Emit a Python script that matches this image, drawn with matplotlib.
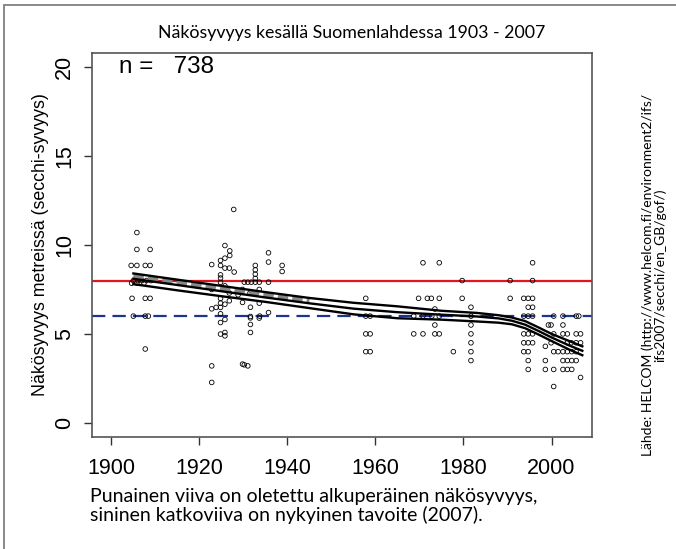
import matplotlib
matplotlib.use("Agg")
import matplotlib.pyplot as plt
from matplotlib.patches import Rectangle

obs_year = [
    1904.5, 1905.8, 1907.7, 1908.8, 1905.8, 1905.8, 1908.8,
    1905.0, 1906.0, 1907.0, 1908.0, 1909.0, 1904.6, 1905.8, 1907.4,
    1904.7, 1907.7, 1908.8, 1905.0, 1907.7, 1908.4, 1907.7,
    1922.8, 1922.8, 1922.8, 1927.8, 1925.8, 1926.9, 1926.9, 1925.8, 1924.8,
    1924.8, 1925.8, 1926.8, 1927.9, 1924.8, 1924.8, 1924.8, 1925.8, 1922.8,
    1926.8, 1935.7, 1935.7, 1938.8, 1938.8, 1932.7, 1932.7, 1932.7, 1932.7,
    1935.7, 1930.2, 1931.0, 1931.8, 1932.7, 1933.6, 1929.8, 1931.5, 1933.6,
    1928.8, 1924.8, 1924.8, 1925.8, 1926.8, 1922.8, 1923.8, 1924.8, 1924.8,
    1925.8, 1924.8, 1924.8, 1925.8, 1925.8, 1931.6, 1931.6, 1931.6, 1931.6,
    1931.6, 1929.8, 1933.6, 1933.6, 1935.7, 1933.7, 1929.8, 1930.2, 1931.0,
    1957.8, 1957.8, 1958.8, 1957.8, 1958.8, 1957.8, 1958.8,
    1970.8, 1974.5, 1979.7, 1969.8, 1971.8, 1972.7, 1974.5, 1979.7, 1973.5,
    1981.7, 1968.7, 1970.8, 1972.8, 1974.5, 1981.7, 1973.5, 1981.7, 1968.7,
    1970.8, 1973.5, 1974.5, 1981.7, 1981.7, 1977.7, 1981.7, 1981.7,
    1990.6, 1995.7, 1995.7, 1990.6, 1993.7, 1994.7, 1995.7, 1994.7, 1995.7,
    1993.7, 1994.7, 1995.7, 2000.5, 2002.6, 2005.6, 2006.2, 1999.3, 1999.9,
    2002.6, 1993.7, 1994.7, 1995.7, 2000.5, 2002.6, 2003.6, 2005.6, 2006.6,
    1993.7, 1994.7, 1995.7, 1998.6, 1999.9, 2003.6, 2004.5, 2005.6, 2006.6,
    1993.7, 1994.7, 2000.5, 2001.5, 2002.6, 2003.6, 2004.6, 2005.6, 1994.7,
    1998.6, 2002.6, 2003.6, 2004.6, 2005.6, 1994.7, 1998.6, 2000.5, 2002.6,
    2003.6, 2004.6, 2006.6, 2000.5,
]
obs_depth = [
    8.85, 8.85, 8.85, 8.85, 10.7, 9.75, 9.75,
    8.0, 8.0, 8.0, 8.0, 8.0, 7.85, 7.85, 7.85,
    7.0, 7.0, 7.0, 6.0, 6.0, 6.0, 4.15,
    8.9, 3.2, 2.27, 12.0, 9.97, 9.67, 9.41, 9.26, 9.13,
    8.85, 8.7, 8.7, 8.48, 8.32, 8.14, 7.9, 7.7, 7.5,
    7.3, 9.56, 9.04, 8.85, 8.51, 8.85, 8.6, 8.36, 8.12,
    7.91, 7.91, 7.91, 7.91, 7.91, 7.91, 7.5, 7.3, 7.5,
    7.2, 6.99, 6.73, 6.67, 6.86, 6.41, 6.49, 6.49, 6.13,
    5.81, 5.64, 4.99, 5.08, 4.89, 6.5, 5.98, 5.9, 5.53,
    5.08, 6.77, 6.73, 5.89, 6.2, 6.0, 3.3, 3.26, 3.2,
    7.0, 6.0, 6.0, 5.0, 5.0, 4.0, 4.0,
    9.0, 9.0, 8.0, 7.0, 7.0, 7.0, 7.0, 7.0, 6.4,
    6.5, 6.0, 6.0, 6.0, 6.0, 6.0, 5.5, 5.5, 5.0,
    5.0, 5.0, 5.0, 5.0, 4.5, 4.0, 4.0, 3.5,
    8.0, 8.0, 9.0, 7.0, 7.0, 7.0, 7.0, 6.5, 6.5,
    6.0, 6.0, 6.0, 6.0, 6.0, 6.0, 6.0, 5.5, 5.5,
    5.5, 5.0, 5.0, 5.0, 5.0, 5.0, 5.0, 5.0, 5.0,
    4.5, 4.5, 4.5, 4.3, 4.5, 4.5, 4.5, 4.5, 4.5,
    4.0, 4.0, 4.0, 4.0, 4.0, 4.0, 4.0, 4.0, 3.5,
    3.5, 3.5, 3.5, 3.5, 3.5, 3.0, 3.0, 3.0, 3.0,
    3.0, 3.0, 2.55, 2.04,
]

# smoothed trend with its band
fit_year = [1905, 1915, 1925, 1935, 1945, 1955, 1965, 1975, 1983, 1988, 1991, 1994, 1997, 2000, 2004, 2007]
fit_mid = [8.1, 7.75, 7.4, 7.05, 6.72, 6.42, 6.22, 6.08, 5.98, 5.87, 5.74, 5.52, 5.17, 4.8, 4.35, 4.05]
fit_upper = [8.4, 8.05, 7.7, 7.35, 7.02, 6.75, 6.55, 6.3, 6.18, 6.05, 5.92, 5.72, 5.37, 5.0, 4.6, 4.3]
fit_lower = [7.8, 7.45, 7.12, 6.8, 6.45, 6.1, 5.88, 5.8, 5.7, 5.63, 5.54, 5.32, 4.97, 4.6, 4.12, 3.8]

original_level = 8
target_level = 6
x_ticks = [1900, 1920, 1940, 1960, 1980, 2000]
y_ticks = [0, 5, 10, 15, 20]
n_obs = 738

W, H = 676, 549
fig = plt.figure(figsize=(W / 100, H / 100), dpi=100)
fig.patches.append(Rectangle((4 / W, -0.01), 1.02, 1 - 5 / H + 0.01, transform=fig.transFigure,
                             fill=False, edgecolor="#808080", lw=1.3))

ax = fig.add_axes([92 / W, 1 - 437 / H, 500 / W, 384 / H])
ax.set_xlim(1895.6, 2009.2)
ax.set_ylim(-0.8, 20.8)

ax.axhline(original_level, color="#e3141f", lw=1.6, zorder=2)
blue = ax.axhline(target_level, color="#1c3590", lw=1.6, zorder=2)
blue.set_dashes((6.0, 3.2))

ax.scatter(obs_year, obs_depth, s=11, facecolors="none", edgecolors="black", linewidths=0.6, zorder=3)

ax.plot(fit_year, fit_upper, color="black", lw=1.7, zorder=4)
ax.plot(fit_year, fit_mid, color="black", lw=1.7, zorder=4)
ax.plot(fit_year, fit_lower, color="black", lw=1.7, zorder=4)
shade = ax.plot(fit_year[:5], [(a + b) / 2 for a, b in zip(fit_upper[:5], fit_mid[:5])],
                color="#888888", lw=3.0, zorder=3.5)[0]
shade.set_dashes((2.5, 1.0))

ax.text(1901.8, 20.0, "n =   " + str(n_obs), fontsize=17.5, family="Liberation Sans", va="center")

ax.set_xticks(x_ticks)
ax.set_yticks(y_ticks)
ax.tick_params(direction="out", length=6, width=1, colors="#333333", labelsize=15.5, pad=9)
ax.tick_params(axis="y", pad=6)
for lab in ax.get_xticklabels() + ax.get_yticklabels():
    lab.set_family("Liberation Sans")
    lab.set_color("black")
for lab in ax.get_yticklabels():
    lab.set_rotation(90)
    lab.set_va("center")
ax.set_ylabel("Näkösyvyys metreissä (secchi-syvyys)", fontsize=12.8, family="Liberation Sans", labelpad=4)
for s in ax.spines.values():
    s.set_color("#555555")
    s.set_linewidth(1.2)

fig.text(352 / W, 1 - 33 / H, "Näkösyvyys kesällä Suomenlahdessa 1903 - 2007",
         ha="center", va="center", fontsize=12.8, family="Lato")
fig.text(90 / W, 1 - 506 / H,
         "Punainen viiva on oletettu alkuperäinen näkösyvyys,\nsininen katkoviiva on nykyinen tavoite (2007).",
         ha="left", va="center", fontsize=14, family="Lato", linespacing=1.05)
fig.text(654 / W, 1 - 275 / H,
         "Lähde: HELCOM (http://www.helcom.fi/environment2/ifs/\nifs2007/secchi/en_GB/gof/)",
         ha="center", va="center", rotation=90, fontsize=10, family="Lato", linespacing=1.0)

fig.savefig("out.png", dpi=100)
